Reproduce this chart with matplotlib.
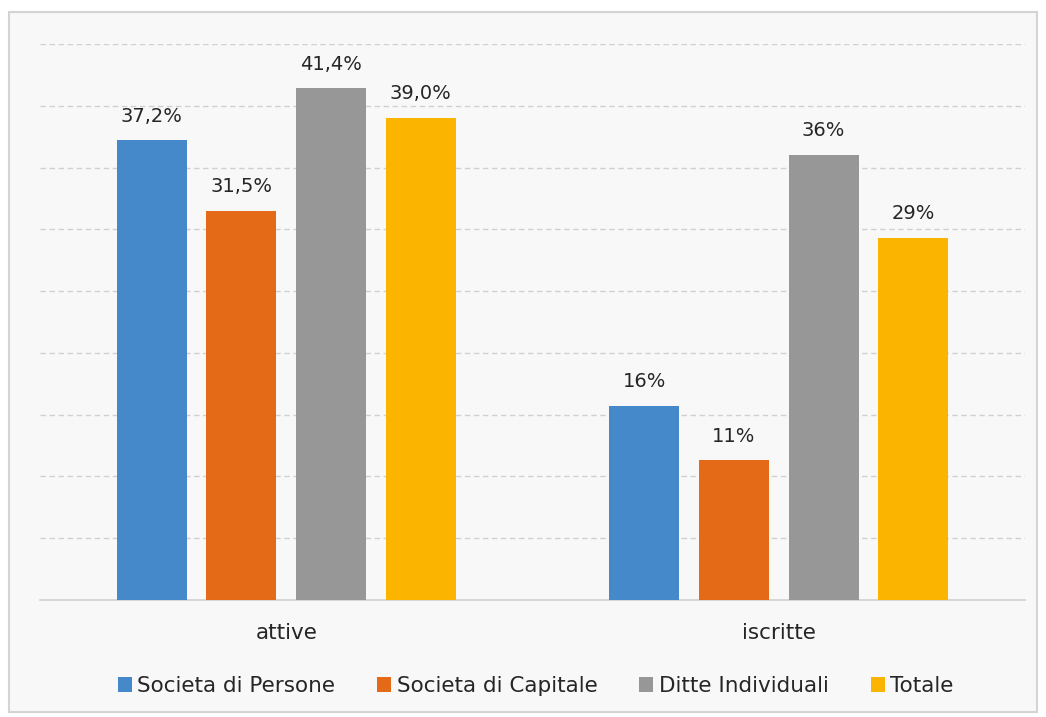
import matplotlib
matplotlib.use("Agg")
import matplotlib.pyplot as plt
import numpy as np
from matplotlib.patches import Rectangle

categories = ["attive", "iscritte"]
series = ["Societa di Persone", "Societa di Capitale", "Ditte Individuali", "Totale"]
values_attive = [37.2, 31.5, 41.4, 39.0]
values_iscritte = [15.7, 11.3, 36.0, 29.3]
labels_attive = ["37,2%", "31,5%", "41,4%", "39,0%"]
labels_iscritte = ["16%", "11%", "36%", "29%"]
colors = ["#4589CB", "#E46A18", "#979797", "#FBB400"]

plt.rcParams['font.family'] = ['DejaVu Sans']

fig = plt.figure(figsize=(10.46, 7.17), dpi=100)
fig.patch.set_facecolor("white")
# outer frame of the chart
fig.patches.append(Rectangle((9 / 1046, 5 / 717), 1028 / 1046, 700 / 717,
                             transform=fig.transFigure, facecolor="#f8f8f8",
                             edgecolor="#d4d4d4", linewidth=1.5, zorder=-10))

ax = fig.add_axes([40 / 1046, 1 - 600 / 717, 985 / 1046, 556 / 717])
ax.set_facecolor("none")

x = np.arange(len(categories))
width = 0.142
step = 0.182
data = [[values_attive[i], values_iscritte[i]] for i in range(len(series))]
texts = [[labels_attive[i], labels_iscritte[i]] for i in range(len(series))]

for i, name in enumerate(series):
    pos = x + (i - 1.5) * step
    bars = ax.bar(pos, data[i], width, color=colors[i], label=name, zorder=3)
    for b, t in zip(bars, texts[i]):
        ax.text(b.get_x() + b.get_width() / 2, b.get_height() + 1.2, t,
                ha="center", va="bottom", fontsize=14, color="#262626")

ax.set_xlim(-0.5, 1.5)
ax.set_ylim(0, 45)
ax.set_yticks(np.arange(5, 46, 5))
ax.yaxis.grid(True, linestyle=(0, (4, 2.5)), color="#d0d0d0", linewidth=1, zorder=0)
ax.tick_params(axis="y", left=False, labelleft=False)
ax.tick_params(axis="x", bottom=False, labelsize=15.5, labelcolor="#262626", pad=13)
ax.set_xticks(x)
ax.set_xticklabels(categories)
for s in ["top", "right", "left"]:
    ax.spines[s].set_visible(False)
ax.spines["bottom"].set_color("#d0d0d0")
ax.spines["bottom"].set_linewidth(1.2)

fig.legend(loc="center", bbox_to_anchor=(0.512, 1 - 686 / 717), ncol=4, frameon=False,
           fontsize=15.5, handlelength=0.65, handleheight=0.65, handletextpad=0.25,
           columnspacing=1.95, labelcolor="#262626")

fig.savefig("out.png", dpi=100)
